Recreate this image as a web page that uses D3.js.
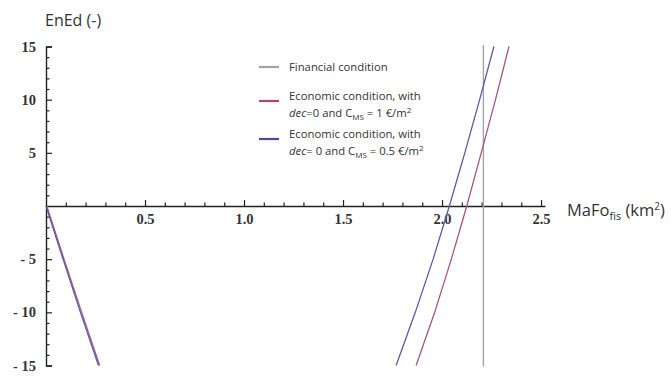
<!DOCTYPE html>
<html>
<head>
<meta charset="utf-8">
<script src="https://cdn.jsdelivr.net/npm/d3@7"></script>
<style>
  html, body { margin: 0; padding: 0; background: #fff; }
  svg { display: block; }
</style>
</head>
<body>
<svg id="chart" width="671" height="378"></svg>
<script>
// ---- data ----
const yLevels = [-15, -10, -5, 0, 5, 10, 15];
const blueRightX    = [1.768, 1.865, 1.955, 2.037, 2.115, 2.190, 2.262];
const magentaRightX = [1.869, 1.963, 2.047, 2.125, 2.198, 2.270, 2.338];
const leftY         = [0, -5, -10, -15];
const blueLeftX     = [0.000, 0.086, 0.174, 0.265];
const magentaLeftX  = [0.004, 0.091, 0.180, 0.271];
const financialX = 2.209;
const xTickValues = [0.5, 1.0, 1.5, 2.0, 2.5];
const yTickValues = [-15, -10, -5, 5, 10, 15];

const colors = { blue: "#5b5ba6", magenta: "#a8557f", gray: "#a3a3a3" };

const svg = d3.select("#chart");
const x = d3.scaleLinear().domain([0, 2.52]).range([46, 545]);
const y = d3.scaleLinear().domain([-15, 15]).range([365.5, 46.5]);

// minor ticks
const xMinor = d3.range(1, 26).map(i => i / 10).filter(v => Math.abs(v * 2 - Math.round(v * 2)) > 1e-6);
const yMinor = d3.range(-15, 16).filter(v => v % 5 !== 0);

const axisColor = "#222";
const tickFont = "'Liberation Serif', 'DejaVu Serif', serif";

// X axis
const gx = svg.append("g").attr("transform", `translate(0,${y(0)})`);
gx.call(d3.axisBottom(x).tickValues(xTickValues).tickFormat(d3.format(".1f"))
  .tickSizeInner(-6).tickSizeOuter(0).tickPadding(8));
gx.append("g").call(d3.axisBottom(x).tickValues(xMinor).tickFormat("").tickSizeInner(-3.5).tickSizeOuter(0))
  .select(".domain").remove();

// Y axis
const gy = svg.append("g").attr("transform", `translate(${x(0)},0)`);
gy.call(d3.axisLeft(y).tickValues(yTickValues).tickFormat(d => d < 0 ? "- " + Math.abs(d) : d)
  .tickSizeInner(-6).tickSizeOuter(-6).tickPadding(10));
gy.append("g").call(d3.axisLeft(y).tickValues(yMinor).tickFormat("").tickSizeInner(-3.5).tickSizeOuter(0))
  .select(".domain").remove();

svg.selectAll(".domain").attr("stroke", axisColor).attr("stroke-width", 1.4);
svg.selectAll(".tick line").attr("stroke", axisColor).attr("stroke-width", 1.2);
svg.selectAll(".tick text")
  .attr("font-family", tickFont).attr("font-size", 14.5).attr("font-weight", "bold").attr("fill", "#333");

// curves
const line = d3.line().x(d => x(d[0])).y(d => y(d[1]));
function drawCurve(xs, ys, color) {
  svg.append("path").datum(xs.map((v, i) => [v, ys[i]]))
    .attr("d", line).attr("fill", "none").attr("stroke", color).attr("stroke-width", 1.3);
}
svg.append("line")
  .attr("x1", x(financialX)).attr("x2", x(financialX))
  .attr("y1", y(15) - 1.5).attr("y2", y(-15) + 1)
  .attr("stroke", colors.gray).attr("stroke-width", 1.4);
drawCurve(magentaLeftX, leftY, colors.magenta);
drawCurve(blueLeftX, leftY, colors.blue);
drawCurve(magentaRightX, yLevels, colors.magenta);
drawCurve(blueRightX, yLevels, colors.blue);

// axis titles
const sans = "'Open Sans', 'Noto Sans', sans-serif";
svg.append("text").attr("x", 45).attr("y", 26).attr("font-family", sans).attr("font-size", 16)
  .attr("fill", "#333").text("EnEd (-)");
const xt = svg.append("text").attr("x", 567).attr("y", 216).attr("font-family", sans).attr("font-size", 16.5).attr("fill", "#333");
xt.append("tspan").text("MaFo");
xt.append("tspan").attr("font-size", 11).attr("dy", 4).text("fis");
xt.append("tspan").attr("dy", -4).text(" (km");
xt.append("tspan").attr("font-size", 10).attr("dy", -6).text("2");
xt.append("tspan").attr("dy", 6).text(")");

// legend
const lg = svg.append("g").attr("font-family", sans).attr("font-size", 11.3).attr("fill", "#333");
const legendItems = [
  { color: colors.gray, y: 67, lines: [[["Financial condition"]]] },
  { color: "#b0457c", y: 101, lines: [[["Economic condition, with"]], [["dec", "i"], ["=0 and C"], ["MS", "sub"], [" = 1 €/m"], ["2", "sup"]]] },
  { color: "#4a4aa6", y: 139, lines: [[["Economic condition, with"]], [["dec", "i"], ["= 0 and C"], ["MS", "sub"], [" = 0.5 €/m"], ["2", "sup"]]] }
];
const lineYs = [[71], [100, 117], [138, 155]];
legendItems.forEach((it, k) => {
  lg.append("line").attr("x1", 259).attr("x2", 279).attr("y1", it.y).attr("y2", it.y)
    .attr("stroke", it.color).attr("stroke-width", 2.2);
  it.lines.forEach((parts, j) => {
    const t = lg.append("text").attr("x", 289).attr("y", lineYs[k][j]);
    let shift = 0;
    parts.forEach(([s, kind]) => {
      const ts = t.append("tspan").text(s);
      let target = 0;
      if (kind === "i") ts.attr("font-style", "italic");
      if (kind === "sub") { ts.attr("font-size", 8); target = 2.5; }
      if (kind === "sup") { ts.attr("font-size", 8); target = -4; }
      if (target - shift !== 0) ts.attr("dy", target - shift);
      shift = target;
    });
  });
});
</script>
</body>
</html>
